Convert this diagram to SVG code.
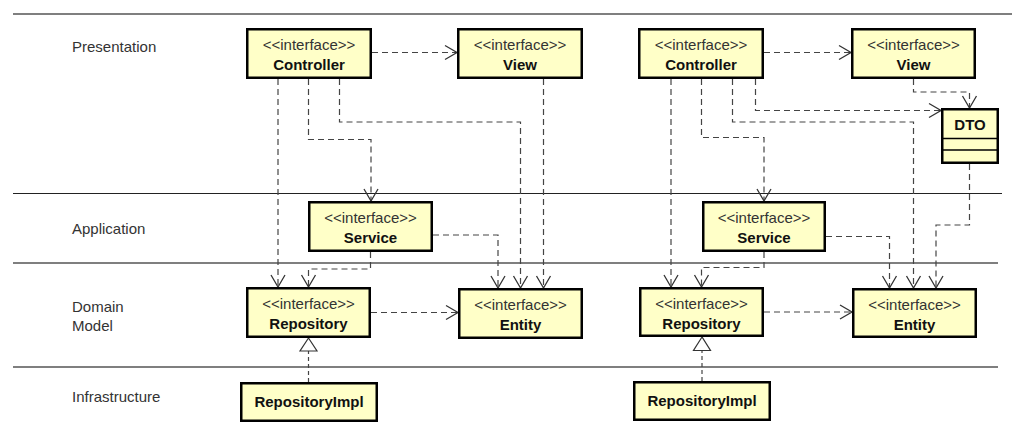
<svg xmlns="http://www.w3.org/2000/svg" width="1024" height="441" viewBox="0 0 1024 441">
<style>
.lane{stroke:#555;stroke-width:1.5;fill:none}
.lbl{font-family:"Liberation Sans",Arial,sans-serif;font-size:15px;fill:#333}
.box{fill:#ffffc8;stroke:#000;stroke-width:2.5}
.st{font-family:"Liberation Sans",Arial,sans-serif;font-size:15px;fill:#333;text-anchor:middle}
.nm{font-family:"Liberation Sans",Arial,sans-serif;font-size:15px;font-weight:bold;fill:#111;text-anchor:middle}
.dep{fill:none;stroke:#444;stroke-width:1.2;stroke-dasharray:6,4;marker-end:url(#arr)}
.real{fill:none;stroke:#444;stroke-width:1.2;stroke-dasharray:4,3}
.tri{fill:#fff;stroke:#333;stroke-width:1.2}
.comp{stroke:#000;stroke-width:1.5}
</style>
<defs>
<marker id="arr" viewBox="-14 -9 16 18" refX="0" refY="0" markerWidth="16" markerHeight="18" markerUnits="userSpaceOnUse" orient="auto">
<path d="M-12,-7 L0,0 L-12,7" fill="none" stroke="#333" stroke-width="1.3"/>
</marker>
</defs>
<rect width="1024" height="441" fill="#fff"/>
<g id="lanes">
<line class="lane" x1="13" y1="14" x2="1012" y2="14"/>
<line class="lane" x1="13" y1="193.5" x2="1002" y2="193.5" style="stroke:#222;stroke-width:1.2"/>
<line class="lane" x1="13" y1="263" x2="998" y2="263"/>
<line class="lane" x1="13" y1="367" x2="998" y2="367"/>
<text class="lbl" x="72" y="52">Presentation</text>
<text class="lbl" x="72" y="234">Application</text>
<text class="lbl" x="72" y="312">Domain</text>
<text class="lbl" x="72" y="331">Model</text>
<text class="lbl" x="72" y="402">Infrastructure</text>
</g>
<g id="connectors">
<path class="dep" d="M372,52.5 H457"/>
<path class="dep" d="M278,79 V287"/>
<path class="dep" d="M308.5,79 V139.5 H371 V201"/>
<path class="dep" d="M339.5,79 V122 H520.5 V288"/>
<path class="dep" d="M543.5,79 V288"/>
<path class="dep" d="M433,235 H498 V288"/>
<path class="dep" d="M370.5,252 V269 H308.5 V287"/>
<path class="dep" d="M371,312.5 H458"/>
<path class="real" d="M308.5,382 V351"/>
<polygon class="tri" points="308.5,338 300,351 317,351"/>
<path class="dep" d="M764,52.5 H851"/>
<path class="dep" d="M671,79 V287"/>
<path class="dep" d="M701.5,79 V137.5 H764 V201"/>
<path class="dep" d="M732.5,79 V122 H913.5 V288"/>
<path class="dep" d="M755.5,79 V110.5 H941"/>
<path class="dep" d="M913.5,79 V92 H969.5 V108"/>
<path class="dep" d="M969.5,164 V225 H936 V288"/>
<path class="dep" d="M826,236.5 H889.5 V288"/>
<path class="dep" d="M764,252 V267.5 H701.5 V287"/>
<path class="dep" d="M764,312 H852"/>
<path class="real" d="M702,381 V350.5"/>
<polygon class="tri" points="702,337 693.5,350.5 710.5,350.5"/>
</g>
<g id="controller-1"><rect class="box" x="247.25" y="29.25" width="123.5" height="48.5"/><text class="st" x="309" y="50">&lt;&lt;interface&gt;&gt;</text><text class="nm" x="309" y="70">Controller</text></g>
<g id="view-1"><rect class="box" x="458.25" y="29.25" width="123.5" height="48.5"/><text class="st" x="520" y="50">&lt;&lt;interface&gt;&gt;</text><text class="nm" x="520" y="70">View</text></g>
<g id="service-1"><rect class="box" x="309.25" y="202.25" width="122.5" height="48.5"/><text class="st" x="370.5" y="223">&lt;&lt;interface&gt;&gt;</text><text class="nm" x="370.5" y="243">Service</text></g>
<g id="repository-1"><rect class="box" x="247.25" y="288.25" width="122.5" height="48.5"/><text class="st" x="308.5" y="309">&lt;&lt;interface&gt;&gt;</text><text class="nm" x="308.5" y="329">Repository</text></g>
<g id="entity-1"><rect class="box" x="459.25" y="289.25" width="122.5" height="48.5"/><text class="st" x="520.5" y="310">&lt;&lt;interface&gt;&gt;</text><text class="nm" x="520.5" y="330">Entity</text></g>
<g id="repositoryimpl-1"><rect class="box" x="241.25" y="383.25" width="135.5" height="37.5"/><text class="nm" x="309" y="407">RepositoryImpl</text></g>
<g id="controller-2"><rect class="box" x="639.25" y="29.25" width="123.5" height="48.5"/><text class="st" x="701" y="50">&lt;&lt;interface&gt;&gt;</text><text class="nm" x="701" y="70">Controller</text></g>
<g id="view-2"><rect class="box" x="852.25" y="29.25" width="122.5" height="48.5"/><text class="st" x="913.5" y="50">&lt;&lt;interface&gt;&gt;</text><text class="nm" x="913.5" y="70">View</text></g>
<g id="dto-2"><rect class="box" x="942.25" y="109.25" width="55.5" height="53.5"/><line class="comp" x1="942" y1="138.5" x2="998" y2="138.5"/><line class="comp" x1="942" y1="150" x2="998" y2="150"/><text class="nm" x="970" y="130">DTO</text></g>
<g id="service-2"><rect class="box" x="703.25" y="202.25" width="121.5" height="48.5"/><text class="st" x="764" y="223">&lt;&lt;interface&gt;&gt;</text><text class="nm" x="764" y="243">Service</text></g>
<g id="repository-2"><rect class="box" x="640.25" y="288.25" width="122.5" height="47.5"/><text class="st" x="701.5" y="309">&lt;&lt;interface&gt;&gt;</text><text class="nm" x="701.5" y="329">Repository</text></g>
<g id="entity-2"><rect class="box" x="853.25" y="289.25" width="122.5" height="47.5"/><text class="st" x="914.5" y="310">&lt;&lt;interface&gt;&gt;</text><text class="nm" x="914.5" y="330">Entity</text></g>
<g id="repositoryimpl-2"><rect class="box" x="634.25" y="382.25" width="135.5" height="37.5"/><text class="nm" x="702" y="406">RepositoryImpl</text></g>
</svg>
